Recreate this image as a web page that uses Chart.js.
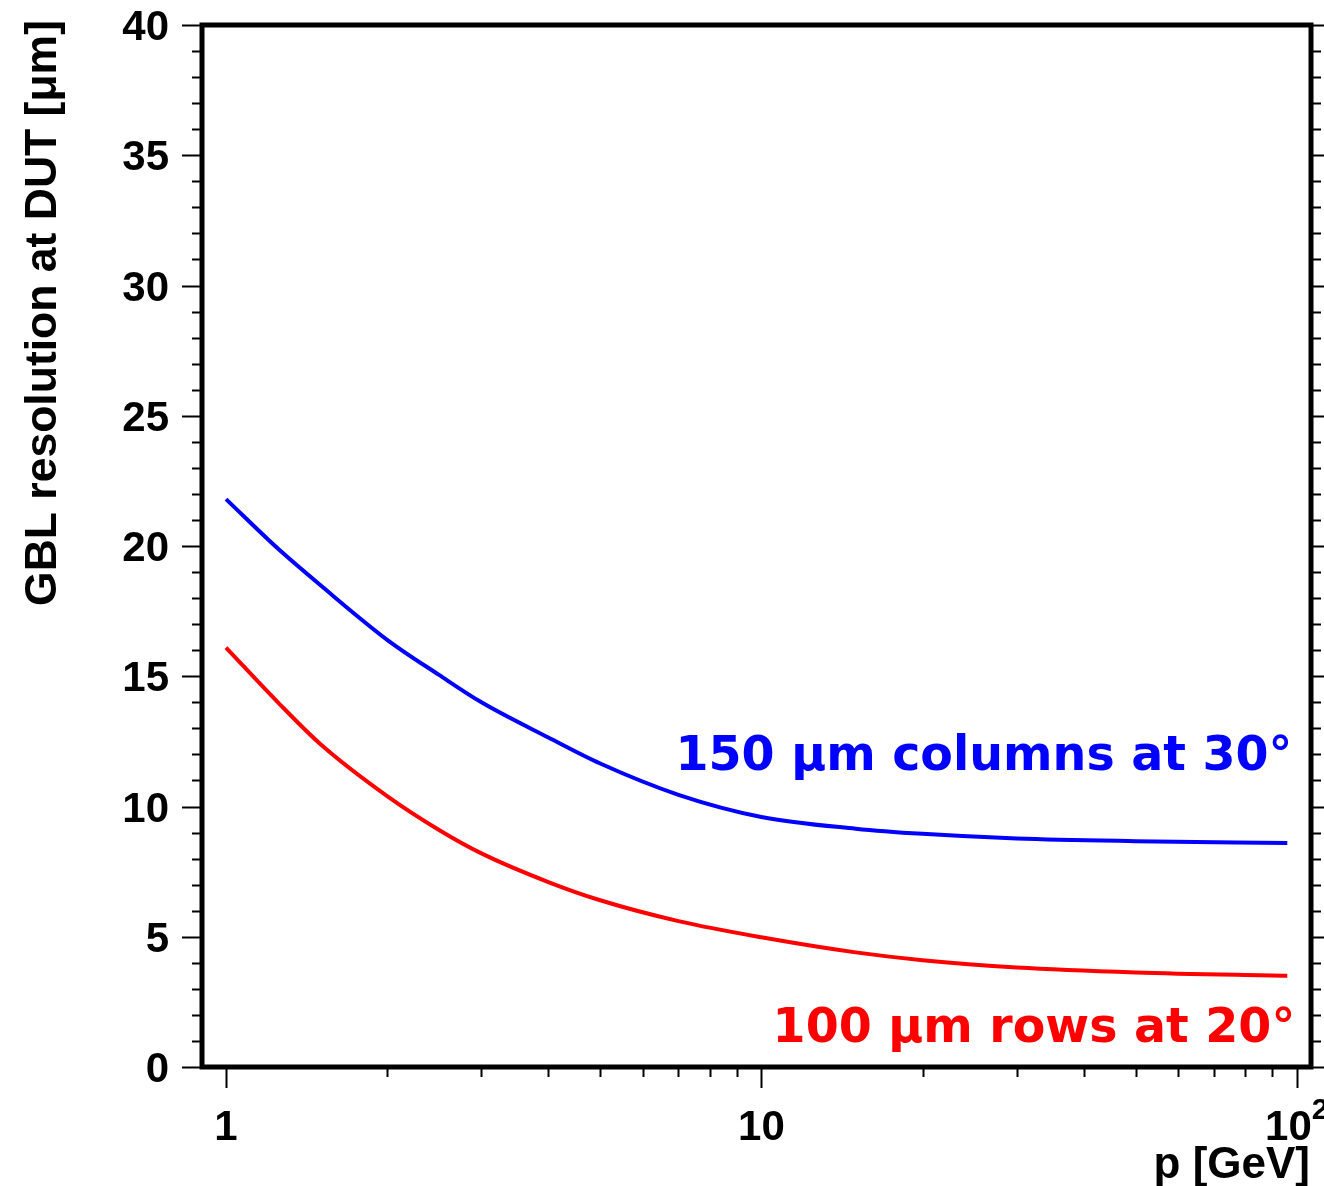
<!DOCTYPE html>
<html>
<head>
<meta charset="utf-8">
<title>GBL resolution at DUT</title>
<script src="https://cdn.jsdelivr.net/npm/chart.js@4.4.1/dist/chart.umd.min.js"></script>
<style>
  html, body { margin: 0; padding: 0; background: #ffffff; }
  #wrap { width: 1324px; height: 1186px; position: relative; }
</style>
</head>
<body>
<div id="wrap"><canvas id="chart" width="1324" height="1186"></canvas></div>
<script>
// Beam momentum p [GeV]
const momentum = [1, 1.25, 1.5, 2, 2.5, 3, 4, 5, 7, 10, 15, 20, 30, 50, 96];
// Track resolution at the DUT [μm]
const resColumns = [21.8, 19.9, 18.5, 16.4, 15.05, 14.0, 12.65, 11.65, 10.45, 9.6, 9.15, 8.95, 8.77, 8.67, 8.6];
const resRows    = [16.1, 14.0, 12.4, 10.4, 9.1, 8.2, 7.1, 6.4, 5.6, 4.98, 4.4, 4.1, 3.82, 3.63, 3.5];

const seriesNames = ['150 μm columns at 30°', '100 μm rows at 20°'];
const seriesColors = ['#0000ff', '#ff0000'];

const xRange = [0.902, 106.3];
const yRange = [0, 40];
const xMajorTicks = [1, 10, 100];
const xTickLabels = { 1: ['1', ''], 10: ['10', ''], 100: ['10', '2'] };
const yStep = 5;
const xTitle = 'p [GeV]';
const yTitle = 'GBL resolution at DUT [μm]';

const sansBold = (px) => `bold ${px}px "Liberation Sans", Arial, sans-serif`;

// Frame, ROOT-style tick marks, tick labels and axis titles
const framePlugin = {
  id: 'frame',
  afterDraw(chart) {
    const { ctx, chartArea: a, scales: { x, y } } = chart;
    ctx.save();
    ctx.strokeStyle = '#000';
    ctx.lineWidth = 2;
    ctx.beginPath();
    for (let v = yRange[0]; v <= yRange[1]; v += 1) {
      const py = Math.round(y.getPixelForValue(v)) + 0.5;
      const len = v % yStep === 0 ? 20 : 10;
      ctx.moveTo(a.left, py); ctx.lineTo(a.left - len, py);
      ctx.moveTo(a.right, py); ctx.lineTo(a.right + len, py);
    }
    for (let dec = 0.1; dec <= 100; dec *= 10) {
      for (let m = 1; m <= 9; m++) {
        const v = m * dec;
        if (v < xRange[0] * 0.999 || v > xRange[1]) continue;
        const px = Math.round(x.getPixelForValue(v)) + 0.5;
        const len = m === 1 ? 21 : 10;
        ctx.moveTo(px, a.bottom); ctx.lineTo(px, a.bottom + len);
      }
    }
    ctx.stroke();
    ctx.lineWidth = 5;
    ctx.strokeRect(a.left, a.top, a.right - a.left, a.bottom - a.top);

    ctx.fillStyle = '#000';
    // y tick labels
    ctx.font = sansBold(42);
    ctx.textAlign = 'right';
    ctx.textBaseline = 'alphabetic';
    for (let v = yRange[0]; v <= yRange[1]; v += yStep) {
      ctx.fillText(String(v), a.left - 33, y.getPixelForValue(v) + 15);
    }
    // x tick labels (base plus optional exponent)
    ctx.textAlign = 'left';
    xMajorTicks.forEach(v => {
      const [base, exp] = xTickLabels[v];
      ctx.font = sansBold(42);
      const wb = ctx.measureText(base).width;
      ctx.font = sansBold(30);
      const we = exp ? ctx.measureText(exp).width : 0;
      const left = x.getPixelForValue(v) - (wb + we) / 2;
      ctx.font = sansBold(42);
      ctx.fillText(base, left, a.bottom + 73);
      if (exp) {
        ctx.font = sansBold(30);
        ctx.fillText(exp, left + wb, a.bottom + 52);
      }
    });
    // axis titles
    ctx.font = sansBold(44);
    ctx.textAlign = 'right';
    ctx.fillText(xTitle, a.right - 1, a.bottom + 111);
    ctx.save();
    ctx.font = sansBold(44.5);
    ctx.translate(a.left - 146, a.top - 5);
    ctx.rotate(-Math.PI / 2);
    ctx.fillText(yTitle, 0, 0);
    ctx.restore();
    ctx.restore();
  }
};

// Curve labels placed in data coordinates
const labelPositions = [
  { x: 98.1, y: 11.4 },
  { x: 99.3, y: 0.95 }
];
const labelPlugin = {
  id: 'curveLabels',
  afterDatasetsDraw(chart) {
    const { ctx, scales: { x, y } } = chart;
    ctx.save();
    ctx.font = 'bold 47.5px "DejaVu Sans", sans-serif';
    ctx.textAlign = 'right';
    ctx.textBaseline = 'alphabetic';
    seriesNames.forEach((name, i) => {
      ctx.fillStyle = seriesColors[i];
      ctx.fillText(name, x.getPixelForValue(labelPositions[i].x), y.getPixelForValue(labelPositions[i].y));
    });
    ctx.restore();
  }
};

new Chart(document.getElementById('chart'), {
  type: 'line',
  data: {
    datasets: [
      { label: seriesNames[0], data: momentum.map((p, i) => ({ x: p, y: resColumns[i] })),
        borderColor: seriesColors[0], borderWidth: 4, pointRadius: 0, cubicInterpolationMode: 'monotone', fill: false },
      { label: seriesNames[1], data: momentum.map((p, i) => ({ x: p, y: resRows[i] })),
        borderColor: seriesColors[1], borderWidth: 4, pointRadius: 0, cubicInterpolationMode: 'monotone', fill: false }
    ]
  },
  options: {
    responsive: false,
    devicePixelRatio: 1,
    animation: false,
    layout: { padding: { left: 0, right: 13, top: 25, bottom: 0 } },
    plugins: { legend: { display: false }, tooltip: { enabled: false } },
    scales: {
      x: {
        type: 'logarithmic',
        min: xRange[0], max: xRange[1],
        afterBuildTicks(scale) { scale.ticks = xMajorTicks.map(v => ({ value: v, major: true })); },
        afterFit(scale) { scale.height = 119; },
        grid: { display: false, drawTicks: false },
        border: { display: false },
        ticks: { display: false }
      },
      y: {
        min: yRange[0], max: yRange[1],
        afterFit(scale) { scale.width = 202; },
        grid: { display: false, drawTicks: false },
        border: { display: false },
        ticks: { display: false, stepSize: yStep }
      }
    }
  },
  plugins: [framePlugin, labelPlugin]
});
</script>
</body>
</html>
